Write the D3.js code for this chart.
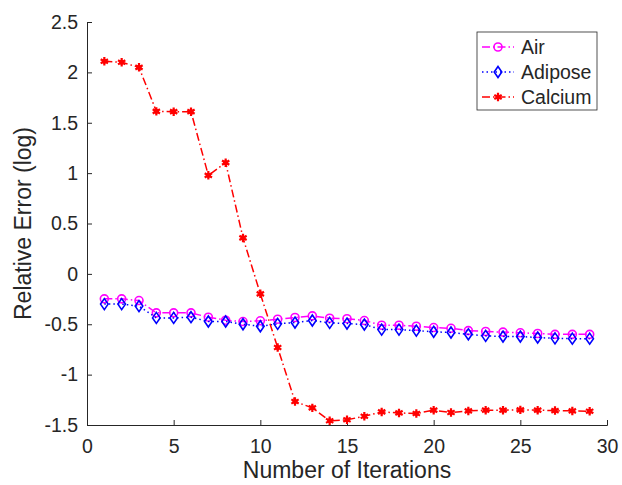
<!DOCTYPE html>
<html>
<head>
<meta charset="utf-8">
<script src="https://cdn.jsdelivr.net/npm/d3@7"></script>
<style>
  body { margin: 0; background: #fff; }
  text { font-family: "Liberation Sans", Arial, Helvetica, sans-serif; fill: #262626; }
</style>
</head>
<body>
<div id="vis"></div>
<script>
// iterations 1..29
var iterations = d3.range(1, 30);

var airErr = [-0.248, -0.248, -0.265, -0.387, -0.387, -0.387, -0.43, -0.46, -0.473, -0.466,
    -0.45, -0.433, -0.417, -0.44, -0.445, -0.463, -0.51, -0.51, -0.52, -0.533,
    -0.54, -0.563, -0.572, -0.578, -0.585, -0.592, -0.6, -0.6, -0.6];

var adiposeErr = [-0.30, -0.30, -0.32, -0.437, -0.437, -0.43, -0.473, -0.473, -0.5, -0.52,
    -0.496, -0.483, -0.463, -0.486, -0.493, -0.503, -0.553, -0.553, -0.563, -0.575,
    -0.582, -0.6, -0.615, -0.622, -0.622, -0.632, -0.64, -0.643, -0.643];

var calciumErr = [2.11, 2.10, 2.05, 1.613, 1.61, 1.61, 0.978, 1.104, 0.357, -0.198,
    -0.731, -1.267, -1.33, -1.458, -1.448, -1.413, -1.37, -1.38, -1.386, -1.353,
    -1.376, -1.36, -1.353, -1.353, -1.35, -1.353, -1.357, -1.36, -1.363];

var xTicks = [0, 5, 10, 15, 20, 25, 30];
var yTicks = [-1.5, -1, -0.5, 0, 0.5, 1, 1.5, 2, 2.5];

var seriesNames = ["Air", "Adipose", "Calcium"];

var width = 622;
var height = 485;
var margin = {left: 87, right: 15, top: 22, bottom: 60};

var svg = d3.select("#vis")
    .append("svg")
    .attr("width", width)
    .attr("height", height);

var x = d3.scaleLinear().domain([0, 30]).range([margin.left, width - margin.right]);
var y = d3.scaleLinear().domain([-1.5, 2.5]).range([height - margin.bottom, margin.top]);

// axes, MATLAB style: ticks pointing inwards, no box
var xAxis = svg.append("g")
    .attr("transform", "translate(0," + y(-1.5) + ")")
    .call(d3.axisBottom(x).tickValues(xTicks).tickSize(-5).tickPadding(14)
        .tickFormat(function (d) { return String(d); }));

var yAxis = svg.append("g")
    .attr("transform", "translate(" + x(0) + ",0)")
    .call(d3.axisLeft(y).tickValues(yTicks).tickSize(-5).tickPadding(9)
        .tickFormat(function (d) { return String(d); }));

[xAxis, yAxis].forEach(function (g) {
    g.select(".domain").attr("stroke", "#262626").attr("stroke-width", 1);
    g.selectAll(".tick line").attr("stroke", "#262626");
    g.selectAll(".tick text").attr("font-size", 19.5).attr("fill", "#262626")
        .attr("font-family", "'Liberation Sans', Arial, sans-serif");
});

svg.append("text")
    .attr("x", (x(0) + x(30)) / 2)
    .attr("y", 478)
    .attr("text-anchor", "middle")
    .attr("font-size", 23)
    .text("Number of Iterations");

svg.append("text")
    .attr("transform", "translate(31," + (y(-1.5) + y(2.5)) / 2 + ") rotate(-90)")
    .attr("text-anchor", "middle")
    .attr("font-size", 23)
    .text("Relative Error (log)");

var series = [
    {name: "Air", values: airErr, color: "#ff00ff", dash: "8,3,1.5,3", marker: "circle"},
    {name: "Adipose", values: adiposeErr, color: "#0000ff", dash: "1.5,3", marker: "diamond"},
    {name: "Calcium", values: calciumErr, color: "#ff0000", dash: "8,3,1.5,3", marker: "star"}
];

var line = d3.line()
    .x(function (d) { return x(d[0]); })
    .y(function (d) { return y(d[1]); });

function drawMarker(g, type, color) {
    if (type === "circle") {
        g.append("circle").attr("r", 4).attr("fill", "none")
            .attr("stroke", color).attr("stroke-width", 1.6);
    } else if (type === "diamond") {
        g.append("path").attr("d", "M0,-5.5L3.8,0L0,5.5L-3.8,0Z").attr("fill", "none")
            .attr("stroke", color).attr("stroke-width", 1.6);
    } else {
        g.append("path").attr("d", d3.symbol(d3.symbolAsterisk, 50)())
            .attr("fill", "none").attr("stroke", color).attr("stroke-width", 2.2);
        g.append("circle").attr("r", 2.5).attr("fill", color);
    }
}

series.forEach(function (s) {
    var pts = iterations.map(function (it, i) { return [it, s.values[i]]; });
    svg.append("path")
        .attr("d", line(pts))
        .attr("fill", "none")
        .attr("stroke", s.color)
        .attr("stroke-width", 1.5)
        .attr("stroke-dasharray", s.dash);
    pts.forEach(function (p) {
        var g = svg.append("g").attr("transform", "translate(" + x(p[0]) + "," + y(p[1]) + ")");
        drawMarker(g, s.marker, s.color);
    });
});

// legend
var legend = svg.append("g").attr("transform", "translate(477,32)");
legend.append("rect")
    .attr("width", 120).attr("height", 78)
    .attr("fill", "#fff").attr("stroke", "#262626").attr("stroke-width", 0.8);

series.forEach(function (s, i) {
    var row = legend.append("g").attr("transform", "translate(0," + (15 + i * 25) + ")");
    row.append("line")
        .attr("x1", 5).attr("x2", 37).attr("y1", 0).attr("y2", 0)
        .attr("stroke", s.color).attr("stroke-width", 1.5)
        .attr("stroke-dasharray", s.dash);
    drawMarker(row.append("g").attr("transform", "translate(21,0)"), s.marker, s.color);
    row.append("text")
        .attr("x", 44).attr("y", 7)
        .attr("font-size", 19.5)
        .text(seriesNames[i]);
});
</script>
</body>
</html>
